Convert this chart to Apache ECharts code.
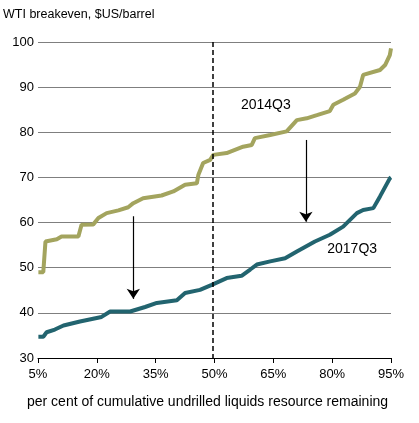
<!DOCTYPE html>
<html>
<head>
<meta charset="utf-8">
<script src="https://cdn.jsdelivr.net/npm/echarts@6/dist/echarts.min.js"></script>
<style>
html,body{margin:0;padding:0;background:#fff;}
#c{width:419px;height:423px;}
</style>
</head>
<body>
<div id="c"></div>
<script>
// percent of cumulative undrilled resource remaining (x) and breakeven (y)
const x2014 = [5.1, 6.35, 6.9, 9.8, 11.0, 15.3, 16.1, 19.1, 20.4, 22.5, 25.5, 28.0, 29.3, 31.8, 36.5, 39.5, 42.5, 45.5, 45.9, 47.1, 48.9, 49.7, 53.1, 57.3, 59.5, 60.3, 64.2, 68.4, 71.0, 73.5, 76.1, 79.4, 80.3, 82.8, 85.8, 87.1, 87.9, 92.2, 93.5, 94.7, 95.0];
const y2014 = [49.0, 49.0, 55.8, 56.3, 56.9, 56.9, 59.5, 59.6, 61.0, 62.1, 62.7, 63.4, 64.3, 65.4, 66.0, 66.9, 68.4, 68.7, 70.6, 73.2, 73.9, 75.0, 75.4, 76.8, 77.2, 78.7, 79.4, 80.2, 82.7, 83.1, 83.8, 84.7, 86.1, 87.2, 88.6, 90.1, 92.7, 93.8, 94.9, 97.1, 98.6];
const x2017 = [5.1, 6.35, 7.2, 9.3, 11.5, 15.7, 21.2, 23.4, 28.5, 32.3, 35.3, 40.4, 42.5, 46.3, 49.3, 53.1, 56.9, 59.1, 60.8, 64.2, 68.0, 71.0, 75.6, 79.4, 82.8, 86.3, 87.9, 90.5, 92.2, 94.7, 95.0];
const y2017 = [34.7, 34.7, 35.7, 36.3, 37.2, 38.1, 39.1, 40.3, 40.3, 41.3, 42.2, 42.8, 44.4, 45.1, 46.2, 47.7, 48.2, 49.6, 50.7, 51.4, 52.1, 53.6, 55.8, 57.3, 59.1, 62.1, 62.8, 63.2, 65.8, 69.8, 70.0];
const seriesNames = ['2014Q3', '2017Q3'];
const xTicks = [5, 20, 35, 50, 65, 80, 95];
const yTicks = [30, 40, 50, 60, 70, 80, 90, 100];
const midLineX = 49.5;
// arrows: [x, fromY, toY]
const arrowLeft = [29.3, 61.4, 43.1];
const arrowRight = [73.3, 78.3, 60.2];

const pair = (xs, ys) => xs.map((v, i) => [v, ys[i]]);
const font = 'Liberation Sans, Arial, sans-serif';

const chart = echarts.init(document.getElementById('c'), null, {renderer: 'canvas'});
chart.setOption({
  animation: false,
  backgroundColor: '#fff',
  grid: {left: 38, right: 28, top: 42, bottom: 65, containLabel: false},
  xAxis: {
    type: 'value',
    min: xTicks[0], max: xTicks[xTicks.length - 1], interval: 15,
    axisLine: {show: true, lineStyle: {color: '#000', width: 1}},
    axisTick: {show: true, length: 5, lineStyle: {color: '#000'}},
    splitLine: {show: false},
    axisLabel: {formatter: '{value}%', color: '#000', fontSize: 13, fontFamily: font, margin: 10}
  },
  yAxis: {
    type: 'value',
    min: yTicks[0], max: yTicks[yTicks.length - 1], interval: 10,
    axisLine: {show: false},
    axisTick: {show: false},
    splitLine: {show: true, lineStyle: {color: '#7f7f7f', width: 1}},
    axisLabel: {color: '#000', fontSize: 13, fontFamily: font, margin: 4}
  },
  graphic: [
    {type: 'text', left: 3, top: 8, style: {text: 'WTI breakeven, $US/barrel', fontSize: 12.5, fontFamily: font, fill: '#000'}},
    {type: 'text', left: 27, top: 395, style: {text: 'per cent of cumulative undrilled liquids resource remaining', fontSize: 14, fontFamily: font, fill: '#000'}}
  ],
  series: [
    {
      name: seriesNames[0], type: 'line', data: pair(x2014, y2014),
      showSymbol: false, lineStyle: {color: '#a3a45e', width: 4}, itemStyle: {color: '#a3a45e'},
      z: 3,
      markPoint: {
        symbol: 'circle', symbolSize: 0,
        label: {show: true, formatter: seriesNames[0], color: '#000', fontSize: 14, fontFamily: font},
        data: [{coord: [63.1, 86.1]}]
      }
    },
    {
      name: seriesNames[1], type: 'line', data: pair(x2017, y2017),
      showSymbol: false, lineStyle: {color: '#22646f', width: 4}, itemStyle: {color: '#22646f'},
      z: 3,
      markPoint: {
        symbol: 'circle', symbolSize: 0,
        label: {show: true, formatter: seriesNames[1], color: '#000', fontSize: 14, fontFamily: font},
        data: [{coord: [85.1, 54.2]}]
      }
    },
    {
      name: 'annot', type: 'line', data: [],
      markLine: {
        silent: true,
        label: {show: false},
        data: [
          [{coord: [midLineX, 100], symbol: 'none', lineStyle: {type: [5, 3], color: '#000', width: 1.5}},
           {coord: [midLineX, 30], symbol: 'none'}],
          [{coord: [arrowLeft[0], arrowLeft[1]], symbol: 'none', lineStyle: {type: 'solid', color: '#000', width: 1.2}},
           {coord: [arrowLeft[0], arrowLeft[2]], symbol: 'arrow', symbolSize: [10, 10]}],
          [{coord: [arrowRight[0], arrowRight[1]], symbol: 'none', lineStyle: {type: 'solid', color: '#000', width: 1.2}},
           {coord: [arrowRight[0], arrowRight[2]], symbol: 'arrow', symbolSize: [10, 10]}]
        ]
      }
    }
  ]
});
</script>
</body>
</html>
